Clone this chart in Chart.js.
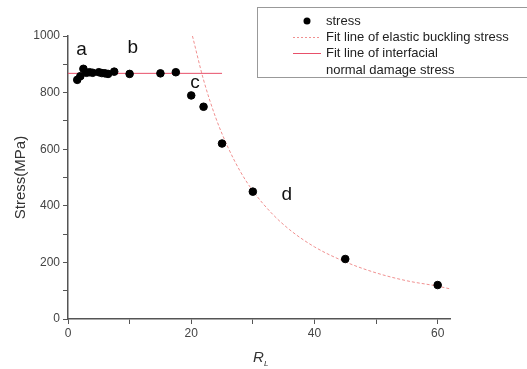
<!DOCTYPE html>
<html>
<head>
<meta charset="utf-8">
<script src="https://cdn.jsdelivr.net/npm/chart.js@4"></script>
<style>
  html, body { margin: 0; padding: 0; background: #fff; }
  #wrap { width: 527px; height: 369px; }
</style>
</head>
<body>
<div id="wrap"><canvas id="myChart"></canvas></div>
<script>
// measured stress points (R_L, MPa)
const stressX = [1.5, 2, 2.5, 3, 3.5, 4, 5, 5.5, 6, 6.5, 7.5, 10, 15, 17.5, 20, 22, 25, 30, 45, 60];
const stressY = [845, 858, 884, 870, 872, 870, 872, 869, 868, 866, 874, 866, 868, 872, 790, 750, 620, 450, 212, 120];

// elastic buckling fit line
const bucklingX = [20.2, 22, 24, 26, 28, 30, 33, 36, 40, 45, 50, 55, 60, 62.5];
const bucklingY = [1000, 845, 710, 605, 520, 453, 375, 315, 255, 202, 163, 135, 116, 104];

// interfacial normal damage fit line
const damageX = [0, 25];
const damageY = [868, 868];

const pointLabels = ["a", "b", "c", "d"];
const pointLabelX = [2.2, 10.5, 20.6, 35.5];
const pointLabelY = [950, 958, 834, 438];

const FONT = "'Liberation Sans', Arial, sans-serif";
const DASH_RED = "#f09090";
const LINE_RED = "#e8506a";

const toXY = (xs, ys) => xs.map((x, i) => ({ x: x, y: ys[i] }));

const decor = {
  id: "decor",
  afterDraw(chart) {
    const c = chart.ctx;
    const xs = chart.scales.x;
    const ys = chart.scales.y;
    c.save();

    // a, b, c, d
    c.fillStyle = "#111";
    c.font = "19px " + FONT;
    c.textAlign = "center";
    c.textBaseline = "middle";
    pointLabels.forEach((t, i) => {
      c.fillText(t, xs.getPixelForValue(pointLabelX[i]), ys.getPixelForValue(pointLabelY[i]));
    });

    // x title R_L
    const cx = (xs.left + xs.right) / 2;
    c.fillStyle = "#333";
    c.textAlign = "left";
    c.textBaseline = "alphabetic";
    c.font = "italic 15px " + FONT;
    c.fillText("R", cx - 6, 362);
    c.font = "italic 8px " + FONT;
    c.fillText("L", cx + 5, 366);

    // legend
    c.strokeStyle = "#999";
    c.lineWidth = 1;
    c.strokeRect(257.5, 7.5, 280, 70);
    c.font = "13px " + FONT;
    c.fillStyle = "#222";
    c.textBaseline = "middle";
    c.fillText("stress", 326, 21);
    c.fillText("Fit line of elastic buckling stress", 326, 37);
    c.fillText("Fit line of interfacial", 326, 53);
    c.fillText("normal damage stress", 326, 70);
    c.beginPath();
    c.arc(307, 21, 3.5, 0, Math.PI * 2);
    c.fillStyle = "#000";
    c.fill();

    c.lineWidth = 1;
    c.strokeStyle = DASH_RED;
    c.setLineDash([2, 2]);
    c.beginPath();
    c.moveTo(293, 37.5);
    c.lineTo(321, 37.5);
    c.stroke();

    c.setLineDash([]);
    c.strokeStyle = LINE_RED;
    c.beginPath();
    c.moveTo(293, 53.5);
    c.lineTo(321, 53.5);
    c.stroke();

    c.restore();
  },
};

new Chart(document.getElementById("myChart"), {
  type: "scatter",
  data: {
    datasets: [
      {
        label: "stress",
        data: toXY(stressX, stressY),
        backgroundColor: "#000",
        borderColor: "#000",
        pointRadius: 3.8,
        order: 0,
      },
      {
        label: "Fit line of elastic buckling stress",
        data: toXY(bucklingX, bucklingY),
        showLine: true,
        borderColor: DASH_RED,
        borderWidth: 1,
        borderDash: [3, 2],
        pointRadius: 0,
        cubicInterpolationMode: "monotone",
        order: 1,
      },
      {
        label: "Fit line of interfacial normal damage stress",
        data: toXY(damageX, damageY),
        showLine: true,
        borderColor: LINE_RED,
        borderWidth: 1,
        pointRadius: 0,
        order: 1,
      },
    ],
  },
  options: {
    responsive: true,
    maintainAspectRatio: false,
    animation: false,
    layout: {
      padding: { left: 0, right: 77, top: 36, bottom: 0 },
    },
    plugins: {
      legend: { display: false },
      tooltip: { enabled: false },
    },
    scales: {
      x: {
        type: "linear",
        min: 0,
        max: 62,
        afterFit: (s) => { s.height = 50; },
        ticks: {
          stepSize: 10,
          includeBounds: false,
          maxRotation: 0,
          padding: 2,
          color: "#444",
          font: { family: FONT, size: 12 },
          callback: (v) => (v % 20 === 0 ? v : ""),
        },
        grid: {
          drawOnChartArea: false,
          drawTicks: true,
          tickLength: 5,
          color: "#555",
        },
        border: { color: "#555", width: 1.5 },
      },
      y: {
        min: 0,
        max: 1000,
        afterFit: (s) => { s.width = 68; },
        ticks: {
          stepSize: 100,
          padding: 3,
          color: "#444",
          font: { family: FONT, size: 12 },
          callback: (v) => (v % 200 === 0 ? v : ""),
        },
        grid: {
          drawOnChartArea: false,
          drawTicks: true,
          tickLength: 5,
          color: "#555",
        },
        border: { color: "#555", width: 1.5 },
        title: {
          display: true,
          text: "Stress(MPa)",
          color: "#333",
          font: { family: FONT, size: 15 },
          padding: { top: 12, bottom: 0 },
        },
      },
    },
  },
  plugins: [decor],
});
</script>
</body>
</html>
